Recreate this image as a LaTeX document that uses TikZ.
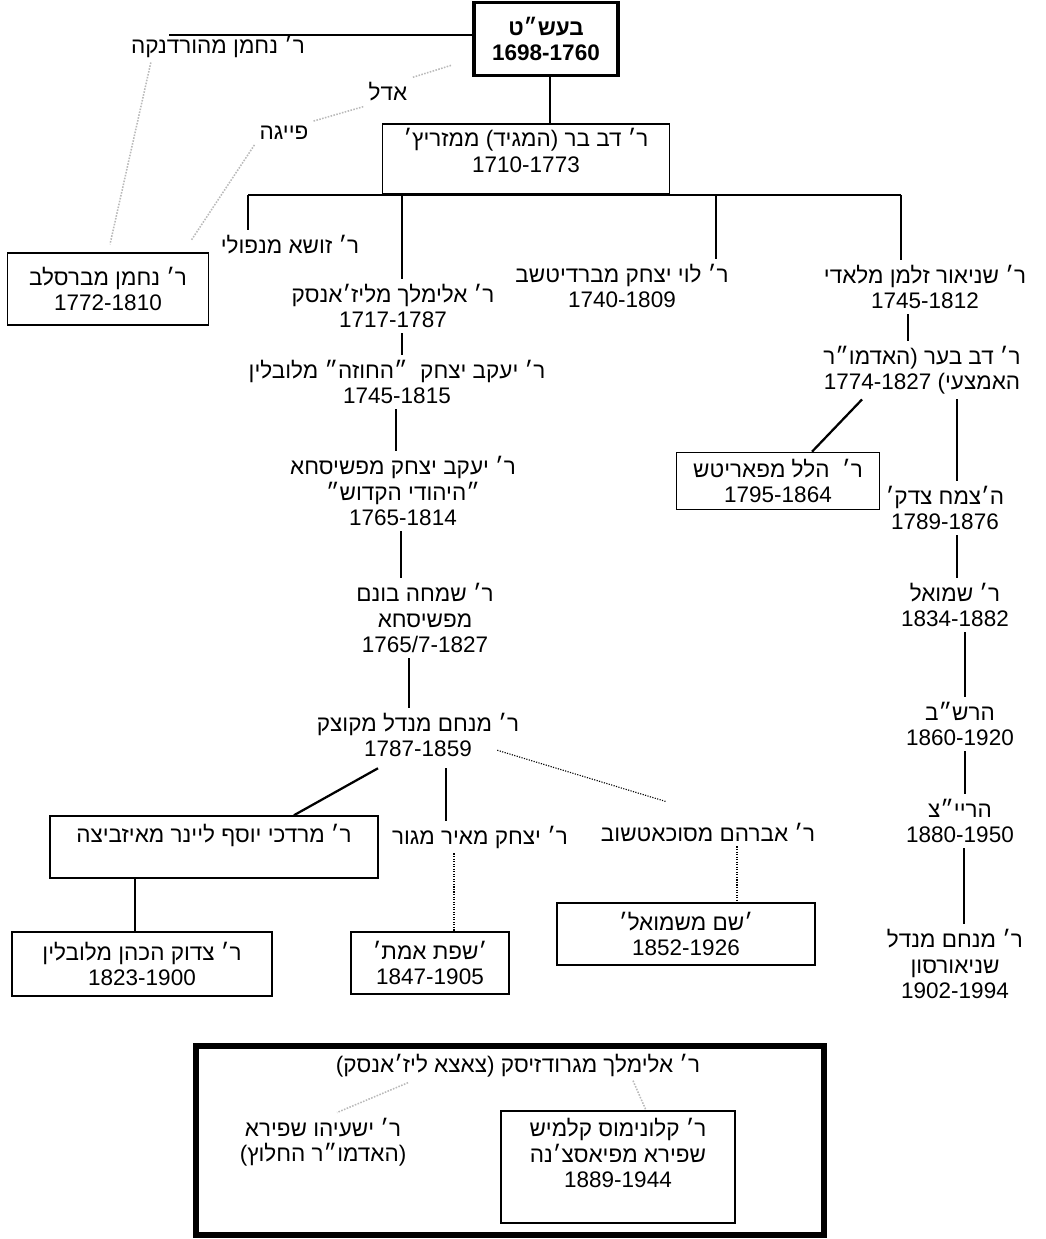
\documentclass[tikz,border=0pt]{standalone}
\usepackage{fontspec}
\newfontfamily\hebfont[Script=Hebrew]{Liberation Sans}
\TeXXeTstate=1
\newcommand{\hb}[1]{\beginR#1\endR}
\usetikzlibrary{calc,positioning}
\tikzset{
  rabbi/.style={font=\hebfont\fontsize{16}{18.2}\selectfont,align=center,inner sep=3.5pt},
  rbox/.style={rabbi,draw,line width=1.1pt},
  tree/.style={line width=1.6pt},
  kin/.style={gray!55,densely dotted,line width=1.1pt},
  link/.style={densely dotted,line width=.8pt}
}
\begin{document}
\begin{tikzpicture}[x=.025cm,y=-.025cm]
\useasboundingbox (0,0) rectangle (1046,1239);
% top
\node[rbox,line width=2.8pt,minimum width=3.6cm,minimum height=1.825cm,
  font=\hebfont\bfseries\fontsize{16}{18.2}\selectfont] (bes) at (546,39) {\hb{בעש״ט}\\1698-1760};
\node[rabbi] (nhor) at (218,46) {\hb{ר׳ נחמן מהורדנקה}};
\coordinate (nhend) at (169,35);
\node[rabbi] (adel) at (388,92) {\hb{אדל}};
\node[rabbi] (feige) at (284,133) {\hb{פייגה}};
\node[rbox,minimum width=7.175cm,minimum height=1.75cm] (maggid) at (526,159) {};
\node[rabbi,below=0pt of maggid.north] (maggidt) {\hb{ר׳ דב בר (המגיד) ממזריץ׳}\\1710-1773};
\node[rbox,minimum width=5.025cm,minimum height=1.8cm] (breslov) at (108,289) {\hb{ר׳ נחמן מברסלב}\\1772-1810};
\node[rabbi] (zusha) at (290,245) {\hb{ר׳ זושא מנפולי}};
\node[rabbi] (elim) at (393,306) {\hb{ר׳ אלימלך מליז׳אנסק}\\1717-1787};
\node[rabbi] (levi) at (622,286) {\hb{ר׳ לוי יצחק מברדיטשב}\\1740-1809};
\node[rabbi] (shnz) at (925,287) {\hb{ר׳ שניאור זלמן מלאדי}\\1745-1812};
% pshischa - kotzk
\node[rabbi] (chozeh) at (397,382) {\hb{ר׳ יעקב יצחק \ ״החוזה״ מלובלין}\\1745-1815};
\node[rabbi] (yid) at (403,491) {\hb{ר׳ יעקב יצחק מפשיסחא}\\\hb{״היהודי הקדוש״}\\1765-1814};
\node[rabbi] (simcha) at (425,618) {\hb{ר׳ שמחה בונם}\\\hb{מפשיסחא}\\1765/7-1827};
\node[rabbi] (kotzk) at (418,735) {\hb{ר׳ מנחם מנדל מקוצק}\\1787-1859};
\node[rbox,minimum width=8.2cm,minimum height=1.55cm] (izbica) at (214,847) {};
\node[rabbi,below=3pt of izbica.north] (izbicat) {\hb{ר׳ מרדכי יוסף ליינר מאיזביצה}};
\node[rabbi] (gur) at (480,837) {\hb{ר׳ יצחק מאיר מגור}};
\node[rabbi] (soch) at (708,832) {\hb{ר׳ אברהם מסוכאטשוב}};
\node[rbox,minimum width=6.5cm,minimum height=1.6cm] (tzadok) at (142,964) {\hb{ר׳ צדוק הכהן מלובלין}\\1823-1900};
\node[rbox,minimum width=3.95cm,minimum height=1.55cm] (sfas) at (430,963) {\hb{׳שפת אמת׳}\\1847-1905};
\node[rbox,minimum width=6.45cm,minimum height=1.55cm] (shem) at (686,934) {\hb{׳שם משמואל׳}\\1852-1926};
% chabad
\node[rabbi] (dovber) at (922,370) {\hb{ר׳ דב בער (האדמו״ר}\\\hb{האמצעי) \beginL1774-1827\endL}};
\node[rbox,minimum width=5.075cm,minimum height=1.425cm] (hillel) at (778,481) {\hb{ר׳ \ הלל מפאריטש}\\1795-1864};
\node[rabbi] (tzt) at (945,508) {\hb{ה׳צמח צדק׳}\\1789-1876};
\node[rabbi] (shmuel) at (955,605) {\hb{ר׳ שמואל}\\1834-1882};
\node[rabbi] (rashab) at (960,724) {\hb{הרש״ב}\\1860-1920};
\node[rabbi] (rayatz) at (960,821) {\hb{הריי״צ}\\1880-1950};
\node[rabbi] (rebbe) at (955,964) {\hb{ר׳ מנחם מנדל}\\\hb{שניאורסון}\\1902-1994};

\draw[tree] (bes.west |- nhend) -- (nhend);
\draw[kin,shorten <=.55cm] (bes.195) -- (adel.north east);
\draw[kin] (feige.north east) -- (adel.south west);
\draw[kin] (feige.south west) -- ($(breslov.north east)+(-18,-12)$);
\draw[kin] ($(nhor.south west)+(25,0)$) -- ($(breslov.north)+(2,-8)$);
\draw[tree] (bes.south -| 550,0) -- (maggid.north -| 550,0);
\draw[tree] (maggid.south -| 248,0) -- (maggid.south -| 901,0);
\foreach \n/\x in {zusha/248,elim/402,levi/716,shnz/901}
  \draw[tree] (maggid.south -| \x,0) -- (\n.north -| \x,0);
\foreach \a/\b/\x in {elim/chozeh/402,chozeh/yid/396,yid/simcha/401,simcha/kotzk/409}
  \draw[tree] (\a.south -| \x,0) -- (\b.north -| \x,0);
\draw[tree] ($(kotzk.south)+(-40,6)$) -- ($(izbica.north)+(80,0)$);
\coordinate (gurtop) at ($(kotzk.south)+(28,6)$);
\draw[tree] (gurtop) -- (gurtop |- gur.north);
\draw[link] ($(kotzk.south east)+(-27,-12)$) -- ($(soch.north)+(-42,-16)$);
\coordinate (gurfoot) at ($(gur.south)+(-26,0)$);
\draw[link] (gurfoot) -- (gurfoot |- sfas.north);
\coordinate (sochfoot) at ($(soch.south)+(29,0)$);
\draw[link] (sochfoot) -- (sochfoot |- shem.north);
\draw[tree] (izbica.south -| 135,0) -- (tzadok.north -| 135,0);
\draw[tree] ($(dovber.south)+(-60,0)$) -- ($(hillel.north)+(34,0)$);
\foreach \a/\b/\x in {shnz/dovber/908,dovber/tzt/957,tzt/shmuel/957,shmuel/rashab/965,rashab/rayatz/965,rayatz/rebbe/964}
  \draw[tree] (\a.south -| \x,0) -- (\b.north -| \x,0);

% grodzisk
\draw[line width=4.2pt] (196,1046) rectangle (824,1235);
\node[rabbi] (elgr) at (518,1066) {\hb{ר׳ אלימלך מגרודזיסק (צאצא ליז׳אנסק)}};
\node[rabbi] (yeshaya) at (323,1142) {\hb{ר׳ ישעיהו שפירא}\\\hb{(האדמו״ר החלוץ)}};
\node[rbox,minimum width=5.85cm,minimum height=2.8cm] (kalon) at (618,1167) {};
\node[rabbi,below=2pt of kalon.north] (kalont) {\hb{ר׳ קלונימוס קלמיש}\\\hb{שפירא מפיאסצ׳נה}\\1889-1944};
\draw[kin] ($(elgr.south)+(-110,0)$) -- ($(yeshaya.north)+(14,0)$);
\draw[kin] ($(elgr.south)+(115,-2)$) -- ($(kalon.north)+(28,0)$);
\end{tikzpicture}
\end{document}
